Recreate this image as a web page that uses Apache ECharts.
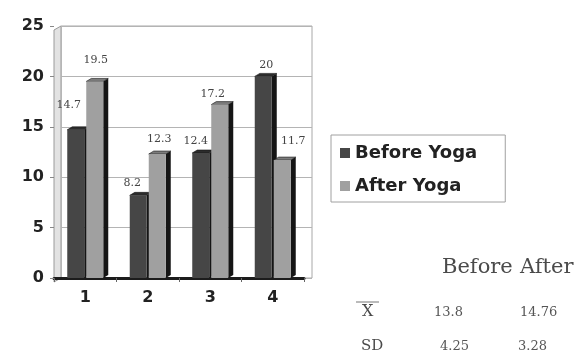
<!DOCTYPE html>
<html>
<head>
<meta charset="utf-8">
<script src="https://cdn.jsdelivr.net/npm/echarts@6/dist/echarts.min.js"></script>
<style>
  html, body { margin: 0; padding: 0; background: #fff; }
  #chart { width: 586px; height: 356px; }
</style>
</head>
<body>
<div id="chart"></div>
<script>
// Scores per group, before and after the yoga programme
const categories = ['1', '2', '3', '4'];
const beforeYoga = [14.7, 8.2, 12.4, 20];
const afterYoga = [19.5, 12.3, 17.2, 11.7];
const yMax = 25;
const yStep = 5;

// Hand placement of the value labels, [dx, dy] in pixels
const beforeLabelNudge = [[-7, -7], [-6, 5], [-5, 6], [3, 6]];
const afterLabelNudge = [[1, -4], [2, 3], [-7, 7], [11, -1]];

// Summary table shown under the legend
const statHeader = ['Before', 'After'];
const statLabels = ['X', 'SD'];
const statBefore = ['13.8', '4.25'];
const statAfter = ['14.76', '3.28'];

const DARK = '#464646';
const LIGHT = '#a0a0a0';
const SIDE = '#151515';
const TOP_DARK = '#2c2c2c';
const TOP_LIGHT = '#7c7c7c';
const BAR_W = 17;
const BAR_GAP = 2;
const DEPTH_X = 5;
const DEPTH_Y = 3;

const chart = echarts.init(document.getElementById('chart'), null, { renderer: 'canvas' });

// Side and top faces that give each bar its depth
function renderDepth(params, api) {
  const idx = api.value(0);
  const children = [];
  const vals = [api.value(1), api.value(2)];
  const tops = [TOP_DARK, TOP_LIGHT];
  for (let k = 0; k < 2; k++) {
    const top = api.coord([idx, vals[k]]);
    const base = api.coord([idx, 0]);
    const cx = top[0] + (k === 0 ? -1 : 1) * (BAR_W + BAR_GAP) / 2;
    const x0 = cx - BAR_W / 2;
    const x1 = cx + BAR_W / 2;
    const yT = top[1];
    const yB = base[1];
    children.push({
      type: 'polygon',
      shape: { points: [[x1, yT], [x1 + DEPTH_X, yT - DEPTH_Y], [x1 + DEPTH_X, yB - DEPTH_Y], [x1, yB]] },
      style: { fill: SIDE }
    });
    children.push({
      type: 'polygon',
      shape: { points: [[x0, yT], [x0 + DEPTH_X, yT - DEPTH_Y], [x1 + DEPTH_X, yT - DEPTH_Y], [x1, yT]] },
      style: { fill: tops[k], stroke: SIDE, lineWidth: 0.6 }
    });
  }
  return { type: 'group', children: children };
}

const labelStyle = {
  show: true,
  position: 'top',
  distance: 12,
  fontFamily: 'DejaVu Serif',
  fontSize: 11,
  color: '#444'
};

function withNudge(values, nudges) {
  return values.map((v, i) => ({ value: v, label: { offset: nudges[i] } }));
}

const serif = 'DejaVu Serif';
const tableGraphics = [
  { type: 'text', left: 442, top: 257, style: { text: statHeader[0], font: '21px ' + serif, fill: '#4a4a4a' } },
  { type: 'text', left: 520, top: 257, style: { text: statHeader[1], font: '21px ' + serif, fill: '#4a4a4a' } },
  { type: 'text', left: 362, top: 304, style: { text: statLabels[0], font: '16px ' + serif, fill: '#4a4a4a' } },
  { type: 'line', shape: { x1: 356, y1: 302, x2: 379, y2: 302 }, style: { stroke: '#777', lineWidth: 1 } },
  { type: 'text', left: 434, top: 306, style: { text: statBefore[0], font: '13px ' + serif, fill: '#555' } },
  { type: 'text', left: 520, top: 306, style: { text: statAfter[0], font: '13px ' + serif, fill: '#555' } },
  { type: 'text', left: 361, top: 339, style: { text: statLabels[1], font: '15px ' + serif, fill: '#4a4a4a' } },
  { type: 'text', left: 440, top: 340, style: { text: statBefore[1], font: '13px ' + serif, fill: '#555' } },
  { type: 'text', left: 518, top: 340, style: { text: statAfter[1], font: '13px ' + serif, fill: '#555' } }
];

// Left side wall of the plot box
const wallGraphic = {
  type: 'polygon',
  z: -1,
  shape: { points: [[54, 30], [61, 26], [61, 278], [54, 282]] },
  style: { fill: '#e2e2e2', stroke: '#9a9a9a', lineWidth: 1 }
};

const option = {
  animation: false,
  backgroundColor: '#fff',
  grid: [
    // front plane: bars, category axis and value labels
    { left: 54, right: 282, top: 26, bottom: 78 },
    // back wall: gridlines and frame
    { left: 61, right: 274, top: 26, bottom: 78, show: true, borderColor: '#a8a8a8', borderWidth: 1, backgroundColor: '#fff', z: -2 }
  ],
  xAxis: [
    {
      type: 'category', gridIndex: 0, data: categories,
      axisLine: { lineStyle: { color: '#1c1c1c', width: 3 } },
      axisTick: { show: true, length: 4, lineStyle: { color: '#666' } },
      axisLabel: { margin: 12, fontFamily: 'DejaVu Sans', fontWeight: 'bold', fontSize: 16, color: '#222' }
    },
    { type: 'category', gridIndex: 1, data: categories, show: false }
  ],
  yAxis: [
    {
      type: 'value', gridIndex: 0, min: 0, max: yMax, interval: yStep,
      axisLine: { show: false },
      axisTick: { show: true, length: 4, lineStyle: { color: '#888' } },
      splitLine: { show: false },
      axisLabel: { margin: 10, fontFamily: 'DejaVu Sans', fontWeight: 'bold', fontSize: 16, color: '#222' }
    },
    {
      type: 'value', gridIndex: 1, min: 0, max: yMax, interval: yStep,
      axisLine: { show: false }, axisTick: { show: false }, axisLabel: { show: false },
      splitLine: { show: true, lineStyle: { color: '#b4b4b4', width: 1 } }
    }
  ],
  legend: {
    orient: 'vertical',
    left: 331, top: 135,
    padding: [9, 28, 7, 9],
    itemWidth: 10, itemHeight: 10, itemGap: 15,
    borderColor: '#a0a0a0', borderWidth: 1,
    icon: 'rect',
    textStyle: { fontFamily: 'DejaVu Sans', fontWeight: 'bold', fontSize: 18, lineHeight: 18, color: '#222' },
    data: ['Before Yoga', 'After Yoga']
  },
  series: [
    {
      type: 'custom', xAxisIndex: 0, yAxisIndex: 0, z: 1,
      renderItem: renderDepth,
      data: categories.map((c, i) => [i, beforeYoga[i], afterYoga[i]]),
      silent: true
    },
    {
      name: 'Before Yoga', type: 'bar', xAxisIndex: 0, yAxisIndex: 0, z: 3,
      barWidth: BAR_W, barGap: (BAR_GAP / BAR_W * 100) + '%',
      itemStyle: { color: DARK },
      label: labelStyle,
      data: withNudge(beforeYoga, beforeLabelNudge)
    },
    {
      name: 'After Yoga', type: 'bar', xAxisIndex: 0, yAxisIndex: 0, z: 3,
      barWidth: BAR_W,
      itemStyle: { color: LIGHT },
      label: labelStyle,
      data: withNudge(afterYoga, afterLabelNudge)
    }
  ],
  graphic: [wallGraphic].concat(tableGraphics)
};

chart.setOption(option);
</script>
</body>
</html>
